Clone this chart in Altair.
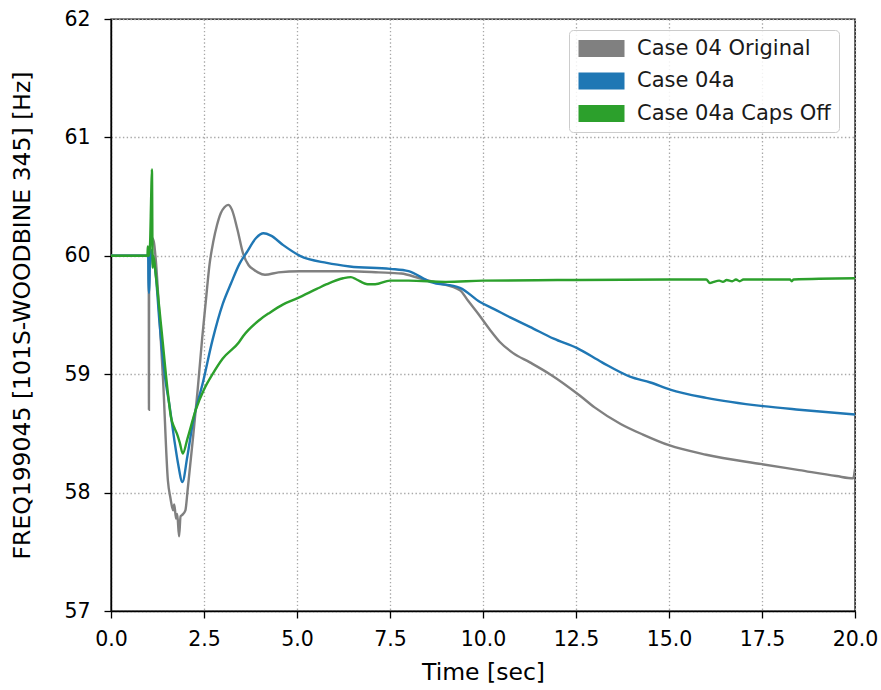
import altair as alt
import pandas as pd

SERIES = ["Case 04 Original", "Case 04a", "Case 04a Caps Off"]
COLORS = ["#808080", "#1f77b4", "#2ca02c"]

# Case 04 Original (gray)
t_orig = [0.0, 0.5, 1.0, 1.015, 1.02, 1.025, 1.06, 1.1, 1.15, 1.2, 1.3, 1.4, 1.53, 1.6, 1.67,
          1.7, 1.75, 1.78, 1.83, 1.87, 1.91, 2.0, 2.06, 2.2, 2.33, 2.45, 2.55, 2.65, 2.75,
          2.85, 2.95, 3.05, 3.15, 3.25, 3.4, 3.55, 3.7, 3.85, 3.95, 4.14, 4.5, 5.08, 6.4,
          7.2, 7.8, 8.3, 8.8, 9.38, 9.6, 9.92, 10.2, 10.46, 10.8, 11.26, 11.8, 12.6, 13.0,
          13.7, 14.3, 15.0, 16.0, 17.5, 18.5, 19.5, 19.95, 20.0]
f_orig = [60.0, 60.0, 60.0, 60.0, 58.7, 60.0, 60.1, 60.15, 60.12, 59.98, 59.5, 58.95, 58.1, 57.95, 57.85,
          57.9, 57.78, 57.82, 57.63, 57.8, 57.81, 57.85, 58.02, 58.45, 58.87, 59.3, 59.62, 59.93, 60.12,
          60.26, 60.36, 60.41, 60.43, 60.39, 60.22, 60.02, 59.92, 59.88, 59.86, 59.84, 59.86, 59.87, 59.87,
          59.86, 59.85, 59.81, 59.77, 59.71, 59.62, 59.49, 59.37, 59.27, 59.18, 59.1, 59.0, 58.82, 58.72,
          58.58, 58.49, 58.4, 58.32, 58.24, 58.19, 58.14, 58.12, 58.2]

# Case 04a (blue)
t_04a = [0.0, 0.5, 1.0, 1.01, 1.03, 1.05, 1.1, 1.12, 1.15, 1.2, 1.3, 1.45, 1.58, 1.7, 1.8, 1.92,
         2.05, 2.2, 2.47, 2.73, 3.0, 3.23, 3.45, 3.65, 3.9, 4.1, 4.3, 4.63, 5.08, 5.8, 6.42,
         7.5, 8.0, 8.58, 9.38, 9.92, 10.3, 10.73, 11.26, 11.9, 12.53, 13.2, 13.95, 14.5, 15.03,
         16.0, 17.53, 18.5, 20.0]
f_04a = [60.0, 60.0, 60.0, 59.69, 59.69, 60.0, 60.05, 59.92, 59.95, 59.85, 59.45, 58.98, 58.72, 58.45, 58.25, 58.09,
         58.3, 58.59, 58.93, 59.29, 59.59, 59.77, 59.93, 60.03, 60.15, 60.19, 60.17, 60.09, 60.0, 59.94, 59.91,
         59.89, 59.87, 59.78, 59.73, 59.61, 59.55, 59.48, 59.4, 59.3, 59.22, 59.1, 58.98, 58.93, 58.87,
         58.8, 58.73, 58.7, 58.66]

# Case 04a Caps Off (green)
t_caps = [0.0, 0.5, 0.98, 0.99, 1.0, 1.02, 1.05, 1.08, 1.1, 1.12, 1.14, 1.2, 1.35, 1.53, 1.61, 1.7, 1.77,
          1.85, 1.93, 2.05, 2.28, 2.5, 2.73, 3.0, 3.44, 3.55, 4.0, 4.27, 4.63, 5.0, 5.53, 5.8, 6.24,
          6.45, 6.6, 6.9, 7.1, 7.5, 8.0, 9.0, 10.0, 12.0, 15.0, 16.0, 16.1, 16.2, 16.35, 16.45, 16.55,
          16.7, 16.8, 16.9, 17.0, 18.25, 18.3, 18.35, 20.0]
f_caps = [60.0, 60.0, 60.0, 60.08, 60.0, 60.0, 60.1, 60.5, 60.73, 59.9, 60.0, 59.85, 59.4, 58.84, 58.64, 58.55, 58.5,
          58.42, 58.33, 58.45, 58.7, 58.87, 59.0, 59.13, 59.27, 59.32, 59.46, 59.52, 59.59, 59.64, 59.72, 59.76, 59.81,
          59.82, 59.8, 59.76, 59.76, 59.79, 59.79, 59.78, 59.79, 59.795, 59.8, 59.8, 59.77, 59.78, 59.79, 59.78, 59.795,
          59.785, 59.8, 59.785, 59.8, 59.8, 59.785, 59.8, 59.81]

X_TICKS = [0.0, 2.5, 5.0, 7.5, 10.0, 12.5, 15.0, 17.5, 20.0]
Y_TICKS = [57, 58, 59, 60, 61, 62]

rows = []
for name, ts, fs in zip(SERIES, [t_orig, t_04a, t_caps], [f_orig, f_04a, f_caps]):
    for t, f in zip(ts, fs):
        rows.append({"t": t, "f": f, "series": name})
df = pd.DataFrame(rows)

FONT = "DejaVu Sans"
PATCH = "M-2.875,-1.06L2.875,-1.06L2.875,1.06L-2.875,1.06Z"

x_enc = alt.X("t:Q",
              scale=alt.Scale(domain=[0, 20], nice=False, zero=False),
              axis=alt.Axis(values=X_TICKS, format=".1f", title="Time [sec]",
                            labelFlush=False, labelPadding=11, titlePadding=11))
y_enc = alt.Y("f:Q",
              scale=alt.Scale(domain=[57, 62], nice=False, zero=False),
              axis=alt.Axis(values=Y_TICKS, format="d",
                            title="FREQ199045 [101S-WOODBINE 345] [Hz]",
                            labelFlush=False, labelPadding=14, titlePadding=29))

lines = alt.Chart(df).mark_line(strokeWidth=2.4, clip=True, interpolate="monotone").encode(
    x=x_enc, y=y_enc,
    stroke=alt.Stroke("series:N", scale=alt.Scale(domain=SERIES, range=COLORS), legend=None),
)

# invisible point layer that only supplies a legend with filled rectangular patches
patches = alt.Chart(df).mark_point(
    filled=True, shape=PATCH, size=256, strokeWidth=0, clip=True
).encode(
    x=x_enc, y=y_enc,
    opacity=alt.value(0),
    fill=alt.Fill("series:N", scale=alt.Scale(domain=SERIES, range=COLORS),
                  legend=alt.Legend(title=None, orient="none", legendX=458, legendY=11,
                                    symbolType=PATCH, symbolSize=256, symbolOpacity=1,
                                    symbolStrokeWidth=0, symbolOffset=14, labelOffset=25,
                                    rowPadding=10.5, padding=8,
                                    strokeColor="#cccccc", fillColor="rgba(255,255,255,0.85)",
                                    cornerRadius=4, labelFontSize=21, labelFont=FONT,
                                    labelColor="#1a1a1a", labelLimit=400)),
)

chart = alt.layer(lines, patches).resolve_scale(stroke="independent", fill="independent").properties(
    width=744, height=592,
    padding={"left": 111, "top": 19, "right": 26, "bottom": 79},
    autosize=alt.AutoSizeParams(type="none"),
).configure_view(
    stroke="#000000", strokeWidth=1.4
).configure_axis(
    labelFont=FONT, labelFontSize=20.5, labelColor="#000000",
    titleFont=FONT, titleFontSize=23.5, titleFontWeight="normal", titleColor="#000000",
    domainColor="#000000", domainWidth=1.4,
    tickColor="#000000", tickWidth=1.3, tickSize=7,
    grid=True, gridColor="#a8a8a8", gridDash=[1.4, 2.4], gridWidth=1.3,
)

chart.save("out.html", embed_options={"renderer": "svg", "actions": False})
